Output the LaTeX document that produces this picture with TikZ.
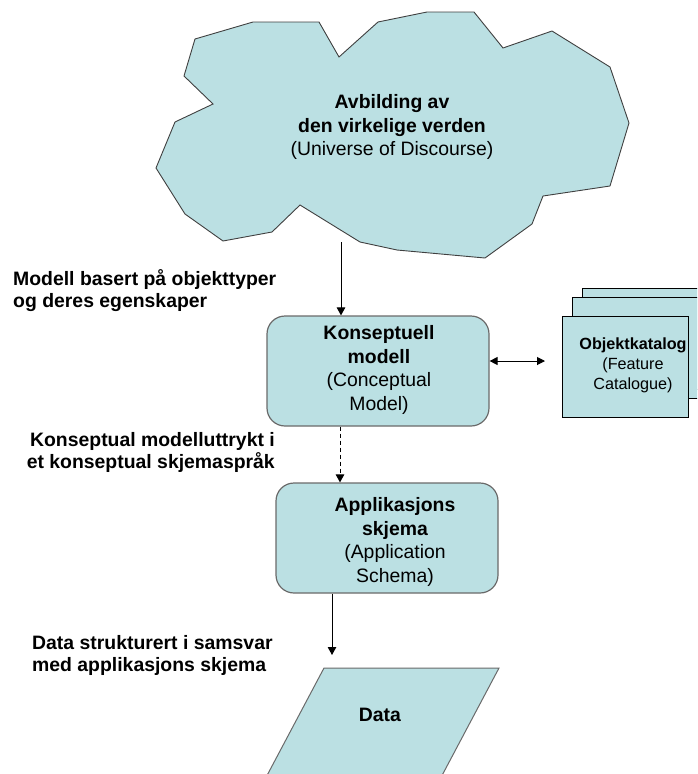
\documentclass[tikz,border=0pt]{standalone}
\usepackage{fontspec}
\setmainfont{Liberation Sans}
\usetikzlibrary{arrows.meta,calc}
\definecolor{paleteal}{HTML}{BBE0E3}
\definecolor{cloudedge}{HTML}{404040}
\definecolor{boxedge}{HTML}{6A6A6A}
\tikzset{
  tealfill/.style={fill=paleteal},
  roundbox/.style={tealfill, draw=boxedge, line width=1.2pt, rounded corners=18pt,
    minimum width=222pt, minimum height=110pt, inner sep=0pt},
  catbox/.style={tealfill, draw=black, line width=1pt, minimum width=126pt,
    minimum height=101pt, inner sep=0pt},
  bigtext/.style={font=\fontsize{19.4}{23.4}\selectfont, align=center, inner sep=0pt},
  sidelabel/.style={font=\bfseries\fontsize{19.4}{22}\selectfont, inner sep=0pt},
  conn/.style={line width=1pt, -{Triangle[length=8pt,width=8.5pt]}},
  connboth/.style={line width=1pt, {Triangle[length=8pt,width=8pt]}-{Triangle[length=8pt,width=8pt]}},
}
\begin{document}
\begin{tikzpicture}[x=1pt,y=-1pt]
\useasboundingbox (0,0) rectangle (697,774);
\begin{scope}
\clip (0,0) rectangle (697,774);

% the jagged "universe of discourse" outline
\draw[tealfill, draw=cloudedge, line width=0.9pt, line join=miter]
  (195,39) -- (253,22) -- (319,22) -- (339,57) -- (378,22) -- (427,12) -- (474,12)
  -- (503,48) -- (552,31) -- (610,67) -- (629,123) -- (610,186) -- (543,196)
  -- (532,224) -- (485,258) -- (397,250) -- (360,242) -- (300,205) -- (272,232)
  -- (223,241) -- (185,214) -- (156,168) -- (175,122) -- (213,104) -- (184,76) -- cycle;
\node[bigtext] (uod) at (392,127)
  {\textbf{Avbilding av}\\\textbf{den virkelige verden}\\(Universe of Discourse)};
\coordinate (uodfoot) at (341,242);

% conceptual model and application schema
\node[roundbox] (konz) at (378,371) {};
\node[bigtext] (konztext) at (379,370)
  {\textbf{Konseptuell}\\\textbf{modell}\\(Conceptual\\Model)};
\node[roundbox] (appl) at (387,538) {};
\node[bigtext] (appltext) at (395,542)
  {\textbf{Applikasjons}\\\textbf{skjema}\\(Application\\Schema)};

% stacked feature catalogue sheets
\node[catbox] (catback) at (645,338.5) {};
\node[catbox] (catmid) at (635,347.5) {};
\node[catbox] (cat) at (625,366.5) {};
\node[font=\fontsize{16.2}{20}\selectfont, align=center, inner sep=0pt] (cattext) at (633,365)
  {\textbf{Objektkatalog}\\(Feature\\Catalogue)};
\coordinate (catleft) at (545,361);

% data sheet, cut off at the lower edge
\draw[tealfill, draw=boxedge, line width=1pt]
  (324,668) -- (499,668) -- (429,800) -- (254,800) -- cycle;
\node[bigtext] (data) at (380,715) {\textbf{Data}};
\coordinate (datatop) at (332,655);

% connectors
\draw[conn] (uodfoot) -- (uodfoot |- konz.north);
\draw[conn, dash pattern=on 4pt off 3pt] (konz.south -| 340,0) -- (appl.north -| 340,0);
\draw[conn] (appl.south -| datatop) -- (datatop);
\draw[connboth] (konz.east |- catleft) -- (catleft);

% side annotations
\node[sidelabel, align=left, anchor=west] (lblmodel) at (13,291)
  {Modell basert på objekttyper\\og deres egenskaper};
\node[sidelabel, align=right, anchor=east] (lblschema) at (275,452)
  {Konseptual modelluttrykt i\\et konseptual skjemaspråk};
\node[sidelabel, align=left, anchor=west] (lbldata) at (32,655)
  {Data strukturert i samsvar\\med applikasjons skjema};
\end{scope}
\end{tikzpicture}
\end{document}
